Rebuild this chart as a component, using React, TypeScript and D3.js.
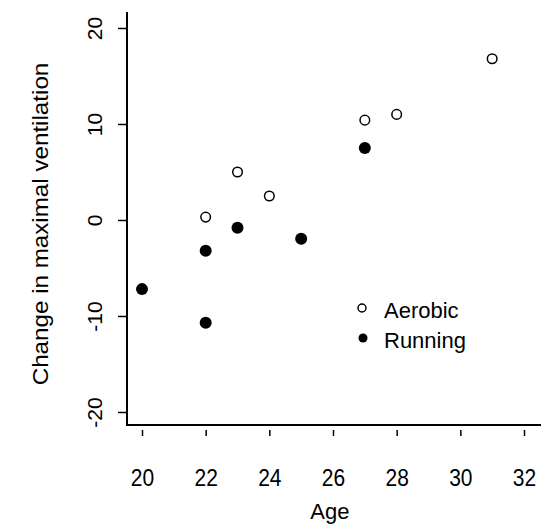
import React, { useEffect, useRef } from "react";
import * as d3 from "d3";

const aerobicAge = [22, 23, 24, 27, 28, 31];
const aerobicChange = [0.3, 5.0, 2.5, 10.4, 11.0, 16.8];
const runningAge = [20, 22, 22, 23, 25, 27];
const runningChange = [-7.2, -3.2, -10.7, -0.8, -1.95, 7.5];
const xTicks = [20, 22, 24, 26, 28, 30, 32];
const yTicks = [-20, -10, 0, 10, 20];

const W = 541;
const H = 524;

export default function App() {
  const ref = useRef<SVGSVGElement>(null);

  useEffect(() => {
    const svg = d3.select(ref.current);
    svg.selectAll("*").remove();

    const font = "'Liberation Sans', Arial, sans-serif";

    // age 20 -> 142px, ~31.8px per year
    const x = d3.scaleLinear().domain([20, 32]).range([142, 524]);
    // 0 -> 220px, ~9.6px per unit
    const y = d3.scaleLinear().domain([-20, 20]).range([412, 28]);

    // axis lines
    svg
      .append("line")
      .attr("x1", 127)
      .attr("x2", 127)
      .attr("y1", 12)
      .attr("y2", 425)
      .attr("stroke", "#000")
      .attr("stroke-width", 2);
    svg
      .append("line")
      .attr("x1", 126)
      .attr("x2", 541)
      .attr("y1", 425)
      .attr("y2", 425)
      .attr("stroke", "#000")
      .attr("stroke-width", 2);

    // x axis
    const gx = svg
      .append("g")
      .attr("transform", "translate(0,430)")
      .call(
        d3
          .axisBottom(x)
          .tickValues(xTicks)
          .tickSize(6)
          .tickFormat((d) => String(d))
      );
    gx.select(".domain").remove();
    gx.selectAll("line").attr("stroke", "#000").attr("stroke-width", 1.5);
    gx.selectAll(".tick text")
      .attr("font-family", font)
      .attr("font-size", 21)
      .attr("fill", "#000")
      .attr("y", null)
      .attr("dy", null)
      .attr("transform", "translate(0,56) scale(1,1.15)");

    // y axis
    const gy = svg
      .append("g")
      .attr("transform", "translate(127,0)")
      .call(
        d3
          .axisLeft(y)
          .tickValues(yTicks)
          .tickSize(9)
          .tickFormat((d) => String(d))
      );
    gy.select(".domain").remove();
    gy.selectAll("line").attr("stroke", "#000").attr("stroke-width", 1.5);
    gy.selectAll(".tick text")
      .attr("font-family", font)
      .attr("font-size", 21)
      .attr("fill", "#000")
      .attr("x", null)
      .attr("dy", null)
      .attr("text-anchor", "middle")
      .attr("transform", "translate(-25,0) rotate(-90)");

    // axis titles
    svg
      .append("text")
      .attr("transform", `translate(${x(25.9)},519)`)
      .attr("text-anchor", "middle")
      .attr("font-family", font)
      .attr("font-size", 22)
      .text("Age");
    svg
      .append("text")
      .attr("transform", "translate(48,224) rotate(-90) scale(1.1,1)")
      .attr("text-anchor", "middle")
      .attr("font-family", font)
      .attr("font-size", 22)
      .text("Change in maximal ventilation");

    // points
    svg
      .append("g")
      .selectAll("circle")
      .data(aerobicAge.map((a, i) => [a, aerobicChange[i]]))
      .join("circle")
      .attr("cx", (d) => x(d[0]))
      .attr("cy", (d) => y(d[1]))
      .attr("r", 4.8)
      .attr("fill", "#fff")
      .attr("stroke", "#000")
      .attr("stroke-width", 1.5);
    svg
      .append("g")
      .selectAll("circle")
      .data(runningAge.map((a, i) => [a, runningChange[i]]))
      .join("circle")
      .attr("cx", (d) => x(d[0]))
      .attr("cy", (d) => y(d[1]))
      .attr("r", 6)
      .attr("fill", "#000");

    // legend
    const legend = svg.append("g").attr("transform", "translate(362,308)");
    legend
      .append("circle")
      .attr("cx", 0)
      .attr("cy", 0)
      .attr("r", 4)
      .attr("fill", "#fff")
      .attr("stroke", "#000")
      .attr("stroke-width", 1.5);
    legend
      .append("circle")
      .attr("cx", 1)
      .attr("cy", 30)
      .attr("r", 4.5)
      .attr("fill", "#000");
    legend
      .selectAll("text")
      .data(["Aerobic", "Running"])
      .join("text")
      .attr("x", 22)
      .attr("y", (d, i) => i * 30 + 10)
      .attr("font-family", font)
      .attr("font-size", 22)
      .text((d) => d);
  }, []);

  return (
    <svg
      ref={ref}
      width={W}
      height={H}
      style={{ position: "absolute", left: 0, top: 0, background: "#fff" }}
    ></svg>
  );
}
